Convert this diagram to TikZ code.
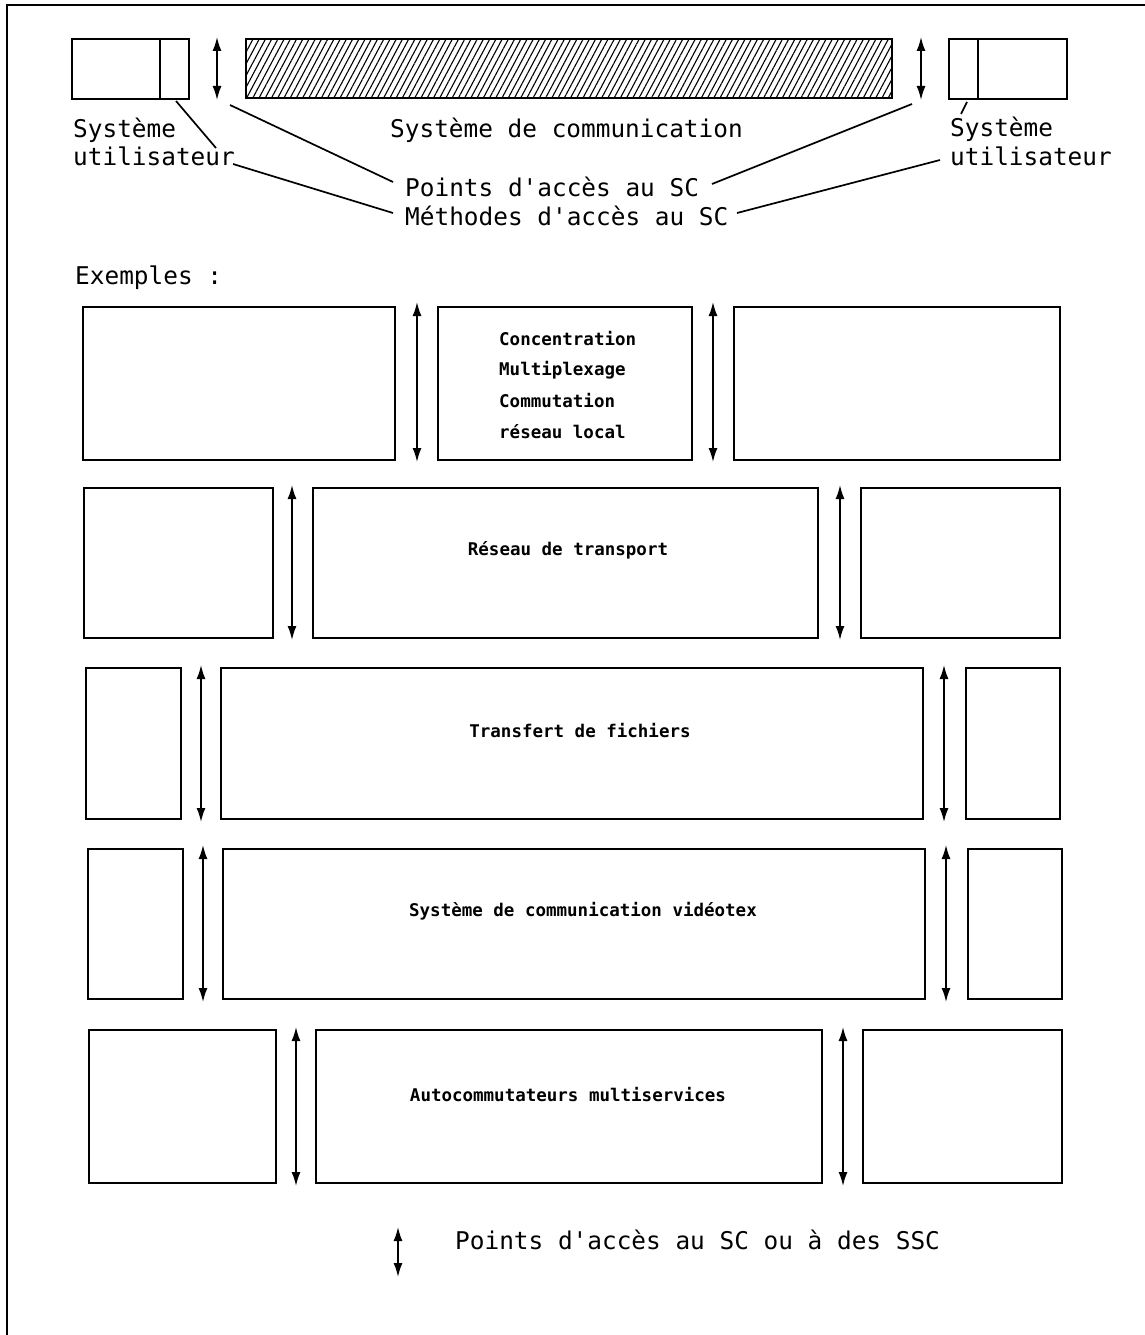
\documentclass[tikz,border=0pt]{standalone}
\usepackage{fontspec}
\newfontfamily\plotfont{DejaVu Sans Mono}
\usetikzlibrary{arrows.meta,patterns.meta}
\begin{document}
\begin{tikzpicture}[x=1pt,y=-1pt,
  bx/.style={draw, line width=2pt, inner sep=0pt, outer sep=0pt, anchor=north west},
  dar/.style={line width=1.6pt, {Latex[length=14pt,width=9pt]}-{Latex[length=14pt,width=9pt]}},
  lead/.style={line width=1.7pt},
  lbl/.style={font=\plotfont\fontsize{24.4}{28}\selectfont, inner sep=0pt, anchor=base west},
  ex/.style={font=\plotfont\bfseries\fontsize{17.5}{20}\selectfont, inner sep=0pt}]
\useasboundingbox (0,0) rectangle (1145,1335);
% page frame
\draw[line width=2.2pt] (7,1335) -- (7,5) -- (1145,5);

% ---------- top part ----------
\node[bx, minimum width=117pt, minimum height=60pt] (ul) at (72,39) {};
\draw[lead] ([xshift=88pt]ul.north west) coordinate (uldt) -- ([xshift=88pt]ul.south west) coordinate (uldb);
\node[bx, minimum width=646pt, minimum height=59pt,
      pattern={Lines[angle=62,distance=5.5pt,line width=1.1pt]}] (sc) at (246,39) {};
\node[bx, minimum width=118pt, minimum height=60pt] (ur) at (949,39) {};
\draw[lead] ([xshift=29pt]ur.north west) -- ([xshift=29pt]ur.south west);

\coordinate (tat1) at (217,37); \coordinate (tab1) at (217,100);
\coordinate (tat2) at (921,37); \coordinate (tab2) at (921,100);
\draw[dar] (tat1) -- (tab1);
\draw[dar] (tat2) -- (tab2);

\node[lbl] (sysl) at (73,137) {Système};
\node[lbl] (util) at (73,165) {utilisateur};
\node[lbl] (scl) at (390,137) {Système de communication};
\node[lbl] (sysr) at (950,136) {Système};
\node[lbl] (utir) at (950,165) {utilisateur};
\node[lbl] (pts) at (405,196) {Points d'accès au SC};
\node[lbl] (meth) at (405,225) {Méthodes d'accès au SC};

% leader lines
\coordinate (lm1) at (176,101); \coordinate (lm2) at (216,148);
\coordinate (lm3) at (233,164); \coordinate (lm4) at (393,213);
\draw[lead] (lm1) -- (lm2);
\draw[lead] (lm3) -- (lm4);
\coordinate (rm1) at (967,102); \coordinate (rm2) at (961,114);
\coordinate (rm3) at (940,160); \coordinate (rm4) at (737,213);
\draw[lead] (rm1) -- (rm2);
\draw[lead] (rm3) -- (rm4);
\coordinate (lp1) at (230,105); \coordinate (lp2) at (393,182);
\coordinate (rp1) at (912,104); \coordinate (rp2) at (712,184);
\draw[lead] (lp1) -- (lp2);
\draw[lead] (rp1) -- (rp2);

\node[lbl] (exm) at (75,284) {Exemples :};

% ---------- row 1 ----------
\node[bx, minimum width=312pt, minimum height=153pt] (r1l) at (83,307) {};
\node[bx, minimum width=254pt, minimum height=153pt] (r1m) at (438,307) {};
\node[bx, minimum width=326pt, minimum height=153pt] (r1r) at (734,307) {};
\coordinate (a1lt) at (417,302); \coordinate (a1lb) at (417,462);
\coordinate (a1rt) at (713,302); \coordinate (a1rb) at (713,462);
\draw[dar] (a1lt) -- (a1lb);
\draw[dar] (a1rt) -- (a1rb);
\node[ex, anchor=west] (t1a) at (499,339) {Concentration};
\node[ex, anchor=west] (t1b) at (499,370) {Multiplexage};
\node[ex, anchor=west] (t1c) at (499,401) {Commutation};
\node[ex, anchor=west] (t1d) at (499,432) {réseau local};

% ---------- row 2 ----------
\node[bx, minimum width=189pt, minimum height=150pt] (r2l) at (84,488) {};
\node[bx, minimum width=505pt, minimum height=150pt] (r2m) at (313,488) {};
\node[bx, minimum width=199pt, minimum height=150pt] (r2r) at (861,488) {};
\coordinate (a2lt) at (292,485); \coordinate (a2lb) at (292,640);
\coordinate (a2rt) at (840,485); \coordinate (a2rb) at (840,640);
\draw[dar] (a2lt) -- (a2lb);
\draw[dar] (a2rt) -- (a2rb);
\node[ex] (t2) at (568,550) {Réseau de transport};

% ---------- row 3 ----------
\node[bx, minimum width=95pt, minimum height=151pt] (r3l) at (86,668) {};
\node[bx, minimum width=702pt, minimum height=151pt] (r3m) at (221,668) {};
\node[bx, minimum width=94pt, minimum height=151pt] (r3r) at (966,668) {};
\coordinate (a3lt) at (201,665); \coordinate (a3lb) at (201,822);
\coordinate (a3rt) at (944,665); \coordinate (a3rb) at (944,822);
\draw[dar] (a3lt) -- (a3lb);
\draw[dar] (a3rt) -- (a3rb);
\node[ex] (t3) at (580,731) {Transfert de fichiers};

% ---------- row 4 ----------
\node[bx, minimum width=95pt, minimum height=150pt] (r4l) at (88,849) {};
\node[bx, minimum width=702pt, minimum height=150pt] (r4m) at (223,849) {};
\node[bx, minimum width=94pt, minimum height=150pt] (r4r) at (968,849) {};
\coordinate (a4lt) at (203,845); \coordinate (a4lb) at (203,1002);
\coordinate (a4rt) at (946,845); \coordinate (a4rb) at (946,1002);
\draw[dar] (a4lt) -- (a4lb);
\draw[dar] (a4rt) -- (a4rb);
\node[ex] (t4) at (583,911) {Système de communication vidéotex};

% ---------- row 5 ----------
\node[bx, minimum width=187pt, minimum height=153pt] (r5l) at (89,1030) {};
\node[bx, minimum width=506pt, minimum height=153pt] (r5m) at (316,1030) {};
\node[bx, minimum width=199pt, minimum height=153pt] (r5r) at (863,1030) {};
\coordinate (a5lt) at (296,1027); \coordinate (a5lb) at (296,1186);
\coordinate (a5rt) at (843,1027); \coordinate (a5rb) at (843,1186);
\draw[dar] (a5lt) -- (a5lb);
\draw[dar] (a5rt) -- (a5rb);
\node[ex] (t5) at (568,1094) {Autocommutateurs multiservices};

% ---------- legend ----------
\coordinate (lgt) at (398,1227); \coordinate (lgb) at (398,1277);
\draw[dar] (lgt) -- (lgb);
\node[lbl] (lgtxt) at (455,1249) {Points d'accès au SC ou à des SSC};
\end{tikzpicture}
\end{document}
